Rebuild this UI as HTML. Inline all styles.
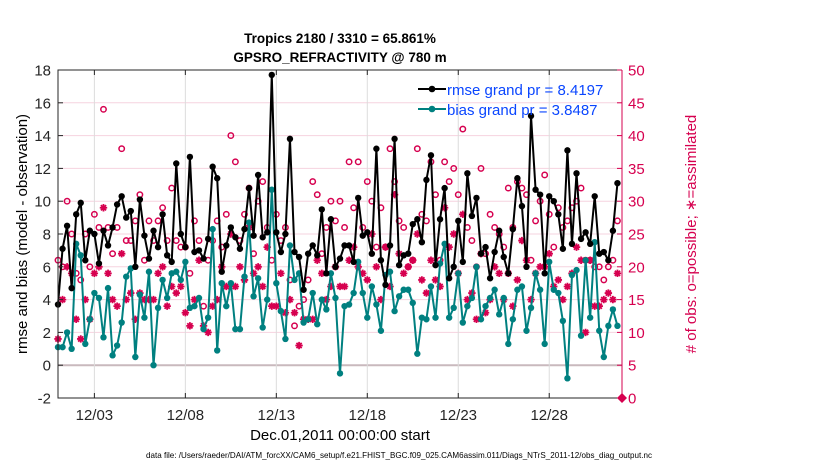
<!DOCTYPE html>
<html><head><meta charset="utf-8">
<style>
html,body{margin:0;padding:0;background:#fff;}
svg{display:block;font-family:"Liberation Sans",Arial,sans-serif;}
</style></head>
<body>
<svg id="chart" width="830" height="470" viewBox="0 0 830 470" xmlns="http://www.w3.org/2000/svg">
<rect x="0" y="0" width="830" height="470" fill="#fff"/>
<text x="340" y="43" text-anchor="middle" font-size="13.5" font-weight="bold">Tropics 2180 / 3310 = 65.861%</text>
<text x="340" y="62" text-anchor="middle" font-size="13.5" font-weight="bold">GPSRO_REFRACTIVITY @ 780 m</text>
<g id="grid"></g>
<g id="series"></g>
<g id="axes"></g>
<g id="legend">
  <line x1="418" y1="89" x2="446" y2="89" stroke="#000" stroke-width="2"/>
  <circle cx="432" cy="89" r="3.3" fill="#000"/>
  <text x="447" y="95" font-size="15" fill="#0a46ff">rmse grand pr = 8.4197</text>
  <line x1="418" y1="109" x2="446" y2="109" stroke="#008080" stroke-width="2"/>
  <circle cx="432" cy="109" r="3.3" fill="#008080"/>
  <text x="447" y="115" font-size="15" fill="#0a46ff">bias grand pr = 3.8487</text>
</g>
<text transform="translate(27,234) rotate(-90)" text-anchor="middle" font-size="15">rmse and bias (model - observation)</text>
<text transform="translate(696,234) rotate(-90)" text-anchor="middle" font-size="15" fill="#d6004f"># of obs: o=possible; ∗=assimilated</text>
<text x="340" y="440" text-anchor="middle" font-size="15">Dec.01,2011 00:00:00 start</text>
<text x="399" y="458" text-anchor="middle" font-size="8.5" textLength="506" lengthAdjust="spacingAndGlyphs">data file: /Users/raeder/DAI/ATM_forcXX/CAM6_setup/f.e21.FHIST_BGC.f09_025.CAM6assim.011/Diags_NTrS_2011-12/obs_diag_output.nc</text>
</svg>
<script>
const rmse = [3.7,7.1,8.5,4.7,9.2,9.9,6.4,8.2,8.0,6.2,8.2,7.3,8.4,9.8,10.3,9.0,9.4,6.0,10.1,7.9,6.5,8.2,7.2,9.2,6.7,6.3,12.3,8.0,7.2,12.7,6.9,7.0,6.5,7.7,12.1,11.4,5.7,7.3,8.4,7.8,
7.1,8.3,10.8,7.9,11.6,7.8,8.1,17.7,8.1,6.9,8.0,13.8,6.9,6.6,4.6,6.8,7.3,6.7,9.5,5.6,8.9,6.0,6.5,7.3,7.3,6.3,10.2,7.9,8.1,6.8,13.2,6.4,4.9,7.3,13.8,6.1,6.7,
6.8,8.6,8.9,7.5,11.3,12.8,6.1,8.9,10.8,5.3,6.0,8.8,6.3,11.7,9.1,10.2,6.8,7.2,5.3,6.9,8.2,6.6,5.6,8.3,11.4,9.7,6.0,15.2,10.7,10.4,5.6,10.3,10.0,9.2,7.1,13.1,7.4,11.7,7.7,8.1,7.4,10.3,
6.8,6.9,6.4,8.2,11.1];
const bias = [1.1,1.1,2.0,1.0,7.4,6.7,1.3,2.8,4.4,4.1,1.7,4.7,0.6,1.2,2.6,5.4,5.9,0.5,4.3,2.9,5.7,0.0,3.5,5.2,4.1,5.6,5.7,5.2,6.3,3.5,3.6,4.1,2.2,2.9,8.3,0.9,5.0,3.6,5.0,2.2,
2.2,5.4,8.7,4.2,5.3,2.3,4.0,10.7,5.0,3.3,1.6,7.3,5.2,5.6,2.6,2.8,4.4,2.5,4.0,3.4,5.6,4.1,-0.5,3.6,3.7,4.4,6.3,4.4,2.9,4.8,3.7,2.1,5.5,5.7,3.3,4.2,4.6,
4.6,3.8,0.7,2.9,2.8,4.8,2.9,6.2,7.4,2.9,3.5,5.6,2.6,3.6,4.1,6.0,2.8,3.6,4.1,4.6,3.1,4.1,1.3,2.8,4.6,4.8,2.1,3.5,5.6,4.6,1.3,6.3,4.6,4.4,2.7,-0.8,5.5,5.8,1.8,6.4,2.9,7.5,
2.1,0.5,2.4,3.4,2.4];
const nPossible = [21,20,30,25,19,18,25,20,28,26,44,26,22,26,38,24,24,27,31,21,27,24,27,29,24,32,24,23,23,19,27,24,14,21,24,27,23,28,40,36,
24,28,32,22,30,33,26,21,28,24,26,18,11,14,15,18,33,31,22,26,30,27,30,26,36,29,36,26,33,30,23,29,23,38,33,27,26,
20,21,38,28,27,36,31,21,36,33,35,31,41,26,24,20,35,22,28,26,25,23,32,26,33,32,31,21,27,30,34,28,23,29,26,27,29,30,32,21,21,20,
20,18,20,21,27];
const nAssim = [9,15,20,19,12,9,15,12,19,20,29,19,15,14,22,15,16,12,16,15,15,15,19,20,14,17,16,17,13,11,15,21,11,10,14,15,20,17,25,17,
20,18,26,19,20,17,23,14,14,19,13,15,13,8,12,12,12,21,19,15,17,20,17,17,21,23,20,19,18,25,20,15,23,17,31,22,19,
20,21,25,18,16,21,18,17,29,23,25,19,28,15,16,12,22,13,15,20,19,15,19,14,18,24,21,15,19,20,20,22,17,18,15,17,19,23,21,10,21,14,
14,15,16,15,19];
const leftTicks = [-2,0,2,4,6,8,10,12,14,16,18];
const rightTicks = [0,5,10,15,20,25,30,35,40,45,50];
const xTickDays = [2,7,12,17,22,27];
const xTickLabels = ["12/03","12/08","12/13","12/18","12/23","12/28"];

const NS="http://www.w3.org/2000/svg";
const L=58,R=622,T=70,B=398, DAYS=31;
const xScale = d => L + d/DAYS*(R-L);
const yLeft = v => B - (v+2)/20*(B-T);
const yRight = c => B - c/50*(B-T);
const CR="#d6004f";
function mk(tag, attrs, parent){const e=document.createElementNS(NS,tag);for(const k in attrs)e.setAttribute(k,attrs[k]);parent.appendChild(e);return e;}
const grid=document.getElementById('grid'), ser=document.getElementById('series'), ax=document.getElementById('axes');

leftTicks.forEach(v=>{ if(v===-2||v===18) return;
  const g=mk('line',{x1:L,x2:R,y1:yLeft(v),y2:yLeft(v),stroke:v===0?'#c9b9bd':'#f6d3df','stroke-width':v===0?2:1},grid);
  
  
});
xTickDays.forEach(d=>{
  const g=mk('line',{x1:xScale(d),x2:xScale(d),y1:T,y2:B,stroke:'#dcdcdc','stroke-width':1},grid);
  
  
});

const xi = i => xScale(i*0.25);
function drawLine(vals,color,name){
  const pts=vals.map((v,i)=>xi(i).toFixed(2)+','+yLeft(v).toFixed(2)).join(' ');
  const pl=mk('polyline',{points:pts,fill:'none',stroke:color,'stroke-width':2,'stroke-linejoin':'round'},ser);
  
  
  vals.forEach((v,i)=>{
    const c=mk('circle',{cx:xi(i),cy:yLeft(v),r:3.2,fill:color},ser);
    
    
  });
}
nPossible.forEach((c,i)=>{
  const e=mk('circle',{cx:xi(i),cy:yRight(c),r:2.7,fill:'none',stroke:CR,'stroke-width':1.5},ser);
  
  
});
nAssim.forEach((c,i)=>{
  const x=xi(i),y=yRight(c),s=3.7,d=2.6;
  const p=mk('path',{d:`M${x-s},${y}H${x+s}M${x},${y-s}V${y+s}M${x-d},${y-d}L${x+d},${y+d}M${x-d},${y+d}L${x+d},${y-d}`,stroke:CR,'stroke-width':1.8,fill:'none'},ser);
  
  
});
drawLine(bias,'#008080','bias');
drawLine(rmse,'#000000','rmse');
const dm=mk('path',{d:`M${R-5},${B}L${R},${B-5}L${R+5},${B}L${R},${B+5}Z`,fill:CR},ser);



const frame=mk('path',{d:`M${R},${T}H${L}V${B}H${R}`,fill:'none',stroke:'#262626','stroke-width':1},ax);


const ra=mk('line',{x1:R,x2:R,y1:T,y2:B,stroke:CR,'stroke-width':1},ax);


leftTicks.forEach(v=>{
  const y=yLeft(v);
  const t=mk('line',{x1:L,x2:L+5,y1:y,y2:y,stroke:'#262626'},ax);
  
  
  const lb=mk('text',{x:L-7,y:y+5.5,'text-anchor':'end','font-size':15,fill:'#262626'},ax);
  lb.textContent=v;
  
  
});
rightTicks.forEach(c=>{
  const y=yRight(c);
  const t=mk('line',{x1:R-5,x2:R,y1:y,y2:y,stroke:CR},ax);
  
  
  const lb=mk('text',{x:R+6,y:y+5.5,'font-size':15,fill:CR},ax);
  lb.textContent=c;
  
  
});
xTickDays.forEach((d,k)=>{
  const x=xScale(d);
  const t1=mk('line',{x1:x,x2:x,y1:B,y2:B-5,stroke:'#262626'},ax);
  
  
  const t2=mk('line',{x1:x,x2:x,y1:T,y2:T+5,stroke:'#262626'},ax);
  
  
  const lb=mk('text',{x:x,y:B+22,'text-anchor':'middle','font-size':15,fill:'#262626'},ax);
  lb.textContent=xTickLabels[k];
  
  
});
</script>
</body></html>
